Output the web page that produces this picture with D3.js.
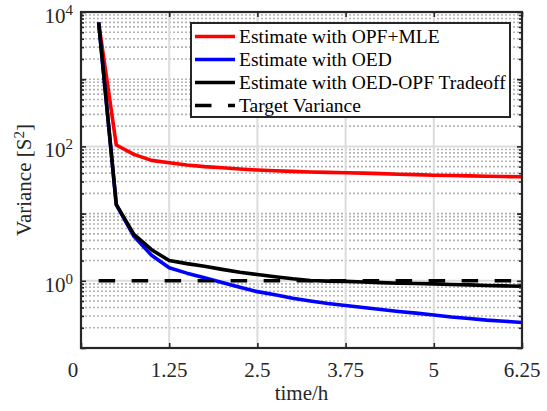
<!DOCTYPE html>
<html>
<head>
<meta charset="utf-8">
<script src="https://cdn.jsdelivr.net/npm/d3@7"></script>
<style>
  html, body { margin: 0; padding: 0; background: #fff; }
  svg { display: block; }
  svg text { font-family: "Liberation Serif", "Times New Roman", "DejaVu Serif", serif; }
</style>
</head>
<body>
<svg id="chart" width="547" height="411" font-family="Liberation Serif, Times New Roman, serif"></svg>
<script>
// ---- data ----
const time = [0.25, 0.5, 0.75, 1.0, 1.25, 1.5, 1.75, 2.0, 2.25, 2.5, 2.75, 3.0, 3.25,
              3.5, 3.75, 4.0, 4.25, 4.5, 4.75, 5.0, 5.25, 5.5, 5.75, 6.0, 6.25];
const opfMle = [7000, 105, 76, 62, 57, 53, 50, 48, 46, 44.5, 43.5, 42.5, 41.5,
                41, 40.5, 40, 39.3, 38.6, 38, 37.3, 36.9, 36.4, 36, 35.6, 35.3];
const oed = [7000, 13.6, 4.6, 2.4, 1.56, 1.3, 1.11, 0.94, 0.80, 0.69, 0.62, 0.55, 0.5,
             0.46, 0.43, 0.40, 0.375, 0.35, 0.33, 0.31, 0.29, 0.275, 0.26, 0.25, 0.24];
const tradeoff = [7000, 13.6, 4.9, 2.9, 2.0, 1.8, 1.65, 1.48, 1.34, 1.24, 1.15, 1.07, 1.01,
                  0.99, 0.98, 0.96, 0.94, 0.92, 0.91, 0.90, 0.88, 0.87, 0.85, 0.84, 0.83];
const targetVariance = 1;
const targetSpan = [0.25, 6.25];
const xTicks = [0, 1.25, 2.5, 3.75, 5, 6.25];
const xTickLabels = ["0", "1.25", "2.5", "3.75", "5", "6.25"];
const yTicks = [1e0, 1e2, 1e4];
const yTickExps = ["0", "2", "4"];
const legendLabels = ["Estimate with OPF+MLE", "Estimate with OED", "Estimate with OED-OPF Tradeoff", "Target Variance"];

// ---- layout ----
const svg = d3.select("#chart");
const L = 81, R = 522, T = 12, B = 348;
const x = d3.scaleLinear().domain([0, 6.25]).range([L, R]);
const y = d3.scaleLog().domain([0.1, 1e4]).range([B, T]);
const axisColor = "#262626";

// minor grid (dotted)
const minorVals = [];
for (let e = -1; e <= 3; e++) {
  for (let m = 1; m <= 9; m++) {
    const v = m * Math.pow(10, e);
    if (!yTicks.includes(v) && v > 0.1) minorVals.push(v);
  }
}
const gGrid = svg.append("g");
gGrid.selectAll("line.minor").data(minorVals).enter().append("line")
  .attr("x1", L).attr("x2", R)
  .attr("y1", d => y(d)).attr("y2", d => y(d))
  .attr("stroke", "#b4b4b4").attr("stroke-width", 1.6)
  .attr("stroke-dasharray", "2,2");
// major grid
gGrid.selectAll("line.majy").data(yTicks).enter().append("line")
  .attr("x1", L).attr("x2", R)
  .attr("y1", d => y(d)).attr("y2", d => y(d))
  .attr("stroke", "#dcdcdc").attr("stroke-width", 2);
gGrid.selectAll("line.majx").data(xTicks).enter().append("line")
  .attr("x1", d => x(d)).attr("x2", d => x(d))
  .attr("y1", T).attr("y2", B)
  .attr("stroke", "#dcdcdc").attr("stroke-width", 2);

// ---- series ----
const line = d3.line().x(d => x(d[0])).y(d => y(d[1]));
const series = [
  { vals: opfMle, color: "#ff0000" },
  { vals: oed, color: "#0000ff" },
  { vals: tradeoff, color: "#000000" }
];
series.forEach(s => {
  svg.append("path")
    .datum(time.map((t, i) => [t, s.vals[i]]))
    .attr("d", line)
    .attr("fill", "none")
    .attr("stroke", s.color)
    .attr("stroke-width", 3.6)
    .attr("stroke-linejoin", "round");
});
svg.append("path")
  .datum(targetSpan.map(t => [t, targetVariance]))
  .attr("d", line)
  .attr("fill", "none")
  .attr("stroke", "#000")
  .attr("stroke-width", 3.6)
  .attr("stroke-dasharray", "16.5,16.5");

// ---- axes ----
const xAxisB = d3.axisBottom(x).tickValues(xTicks).tickSize(-5).tickFormat("");
const xAxisT = d3.axisTop(x).tickValues(xTicks).tickSize(-5).tickFormat("");
const yAll = [];
for (let e = -1; e <= 4; e++) yAll.push(Math.pow(10, e));
const yAxisL = d3.axisLeft(y).tickValues(yAll).tickSize(-5).tickFormat("");
const yAxisR = d3.axisRight(y).tickValues(yAll).tickSize(-5).tickFormat("");
const yMinorL = d3.axisLeft(y).tickValues(minorVals).tickSize(-3).tickFormat("");
const yMinorR = d3.axisRight(y).tickValues(minorVals).tickSize(-3).tickFormat("");
function styleAxis(g) {
  g.select(".domain").remove();
  g.selectAll(".tick line").attr("stroke", axisColor).attr("stroke-width", 1.6);
}
svg.append("g").attr("transform", `translate(0,${B})`).call(xAxisB).call(styleAxis);
svg.append("g").attr("transform", `translate(0,${T})`).call(xAxisT).call(styleAxis);
svg.append("g").attr("transform", `translate(${L},0)`).call(yAxisL).call(styleAxis);
svg.append("g").attr("transform", `translate(${R},0)`).call(yAxisR).call(styleAxis);
svg.append("g").attr("transform", `translate(${L},0)`).call(yMinorL).call(styleAxis);
svg.append("g").attr("transform", `translate(${R},0)`).call(yMinorR).call(styleAxis);
svg.append("rect").attr("x", L).attr("y", T).attr("width", R - L).attr("height", B - T)
  .attr("fill", "none").attr("stroke", axisColor).attr("stroke-width", 2.2);

// x tick labels
svg.append("g").selectAll("text").data(xTicks).enter().append("text")
  .attr("x", (d, i) => x(d) - (i === 0 ? 8 : 0))
  .attr("y", 376.5)
  .attr("text-anchor", "middle")
  .attr("font-size", 21)
  .attr("fill", axisColor)
  .text((d, i) => xTickLabels[i]);

// y tick labels 10^n
const yl = svg.append("g").selectAll("text").data(yTicks).enter().append("text")
  .attr("x", 73)
  .attr("y", d => y(d) + 11)
  .attr("text-anchor", "end")
  .attr("font-size", 21)
  .attr("fill", axisColor);
yl.append("tspan").text("10");
yl.append("tspan").attr("dy", -8).attr("font-size", 15).text((d, i) => yTickExps[i]);

// axis titles
svg.append("text")
  .attr("x", (L + R) / 2).attr("y", 400)
  .attr("text-anchor", "middle").attr("font-size", 21).attr("fill", axisColor)
  .text("time/h");
const yt = svg.append("text")
  .attr("transform", `translate(31,${(T + B) / 2}) rotate(-90)`)
  .attr("text-anchor", "middle").attr("font-size", 21).attr("fill", axisColor);
yt.append("tspan").text("Variance [S");
yt.append("tspan").attr("dy", -7).attr("font-size", 15).text("2");
yt.append("tspan").attr("dy", 7).text("]");

// ---- legend ----
const lg = svg.append("g");
lg.append("rect").attr("x", 191).attr("y", 23).attr("width", 319).attr("height", 94)
  .attr("fill", "#fff").attr("stroke", "#262626").attr("stroke-width", 2);
const legendStyles = [
  { color: "#ff0000", dash: null },
  { color: "#0000ff", dash: null },
  { color: "#000000", dash: null },
  { color: "#000000", dash: "16.5,16.5" }
];
legendLabels.forEach((lab, i) => {
  const cy = 36.5 + i * 23;
  const ln = lg.append("line").attr("x1", 195).attr("x2", 235).attr("y1", cy).attr("y2", cy)
    .attr("stroke", legendStyles[i].color).attr("stroke-width", 3.6);
  if (legendStyles[i].dash) ln.attr("stroke-dasharray", legendStyles[i].dash);
  lg.append("text").attr("x", 239).attr("y", cy + 6.5)
    .attr("font-size", 19.5).attr("fill", "#000").text(lab);
});
</script>
</body>
</html>
